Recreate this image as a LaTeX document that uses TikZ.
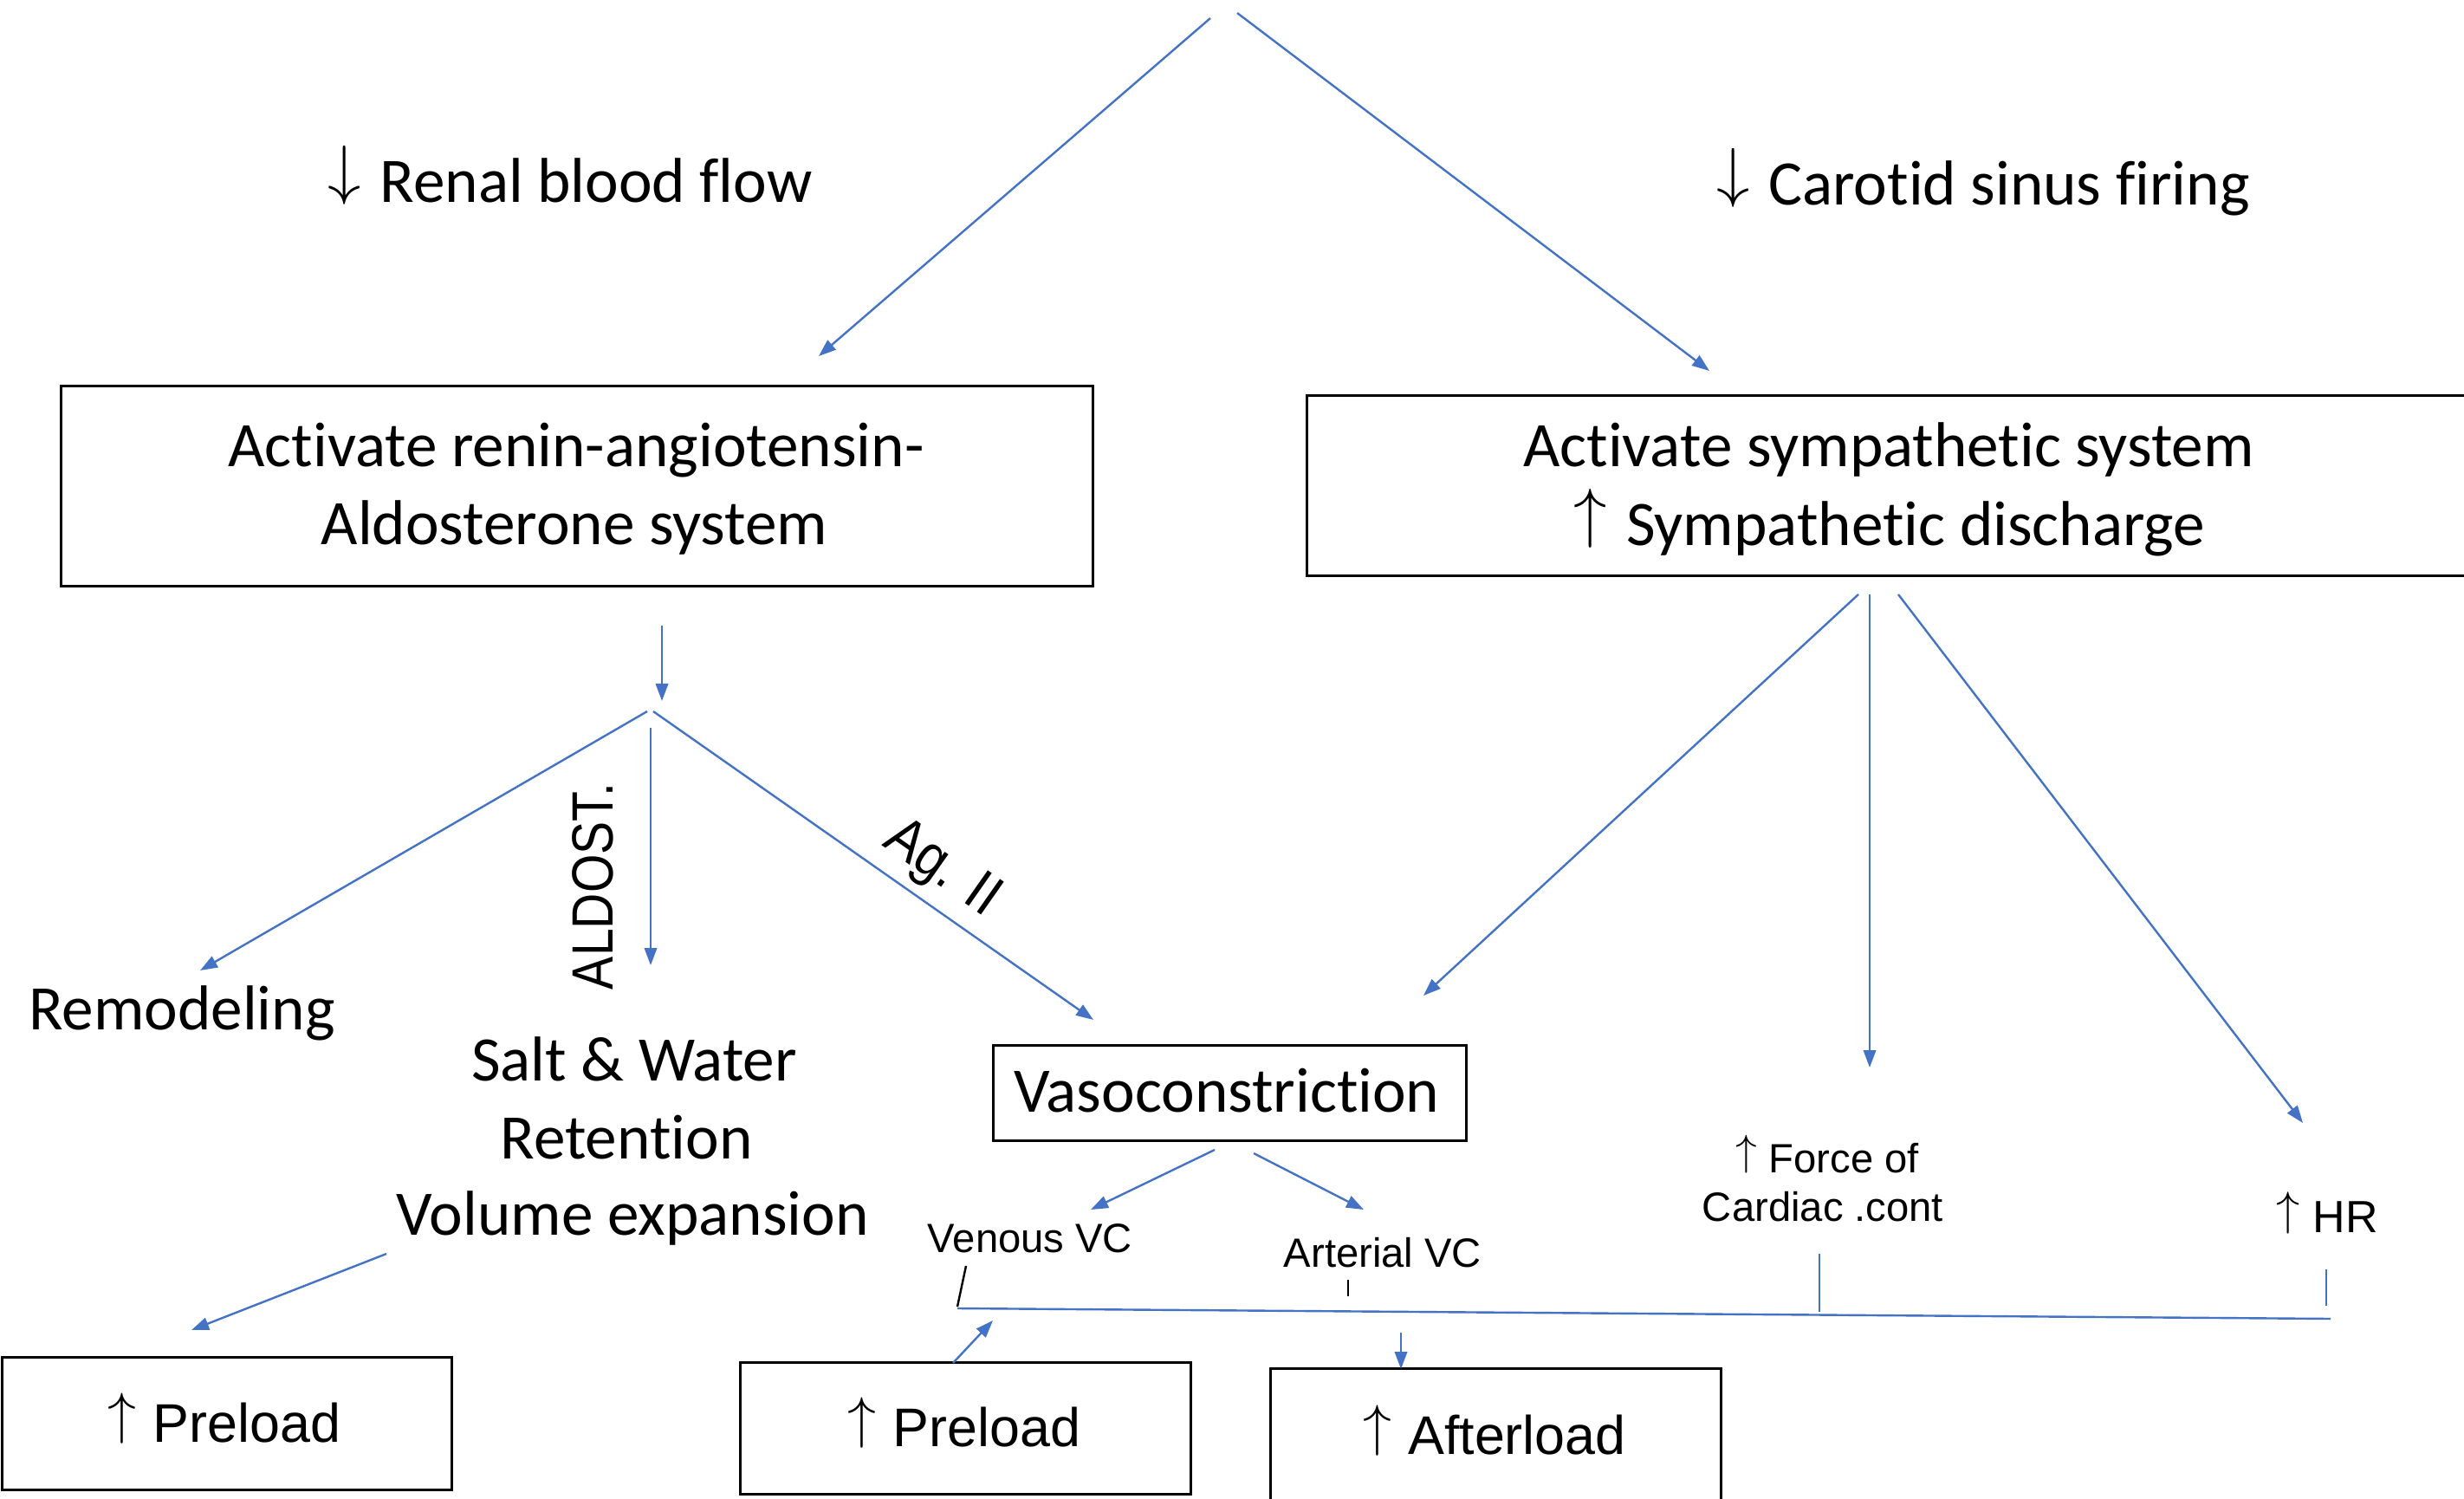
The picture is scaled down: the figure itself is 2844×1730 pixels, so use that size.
\documentclass[tikz,border=0pt]{standalone}
\usepackage{fontspec}
\setmainfont{Carlito}[Ligatures=NoCommon]
\newfontfamily\arialfam{Liberation Sans}
\usetikzlibrary{arrows.meta}
\definecolor{linkblue}{HTML}{4472C4}
% thin arrows standing on the baseline, sized to the current font
\newcommand{\myup}{\raisebox{0.17em}{\resizebox*{!}{0.93em}{$\uparrow$}}\hspace{0.3em}}
\newcommand{\mydown}{\raisebox{0.17em}{\resizebox*{!}{0.93em}{$\downarrow$}}\hspace{0.3em}}

\begin{document}
\begin{tikzpicture}[x=0.25pt,y=-0.25pt,
  box/.style={draw=black, line width=0.75pt, inner sep=0pt, outer sep=0pt},
  txt/.style={anchor=base, inner sep=0pt, font=\fontsize{18.3}{22}\selectfont},
  lbl/.style={anchor=base, inner sep=0pt, font=\arialfam\fontsize{11.8}{14}\selectfont},
  big/.style={anchor=base, inner sep=0pt, font=\arialfam\fontsize{15.7}{18}\selectfont},
  side/.style={inner sep=0pt, font=\arialfam\fontsize{16.8}{18}\selectfont},
  flow/.style={draw=linkblue, line width=0.6pt, -{Triangle[length=5pt,width=3.6pt]}},
  link/.style={draw=linkblue, line width=0.6pt},
  tick/.style={draw=black, line width=0.6pt}]

% page frame
\clip (0,0) rectangle (2844,1730);
\fill[white] (0,0) rectangle (2844,1730);

% ---------- headings ----------
\node[txt] (renal) at (658,234) {\mydown Renal blood flow};
\node[txt] (carotid) at (2289,237) {\mydown Carotid sinus firing};

% ---------- system boxes ----------
\node[box, minimum width=297.75pt, minimum height=57.75pt] (raas) at (665.5,561.5) {};
\node[txt] (raasA) at (665,539) {Activate renin-angiotensin-};
\node[txt] (raasB) at (663,629) {Aldosterone system};

\node[box, minimum width=335.5pt, minimum height=52pt] (symp) at (2179,561) {};
\node[txt] (sympA) at (2180,539) {Activate sympathetic system};
\node[txt] (sympB) at (2181,630) {\myup Sympathetic discharge};

% ---------- RAAS effects ----------
\node[txt] (remod) at (210,1188) {Remodeling};
\node[txt] (saltA) at (732,1247) {Salt \& Water};
\node[txt] (saltB) at (723,1337) {Retention};
\node[txt] (saltC) at (730,1425) {Volume expansion};
\node[side, rotate=90] (aldost) at (684,1023) {\scalebox{0.85}[1]{ALDOST.}};

% ---------- vasoconstriction ----------
\node[box, minimum width=136.5pt, minimum height=27.5pt] (vaso) at (1419,1261) {};
\node[txt] (vasoT) at (1416,1283.5) {Vasoconstriction};
\node[lbl] (venous) at (1189,1445) {Venous VC};
\node[lbl] (arterial) at (1596,1462) {Arterial VC};

% ---------- sympathetic effects ----------
\node[lbl] (forceA) at (2109,1353) {\myup Force of};
\node[lbl] (forceB) at (2104,1409) {Cardiac .cont};
\node[lbl, font=\arialfam\fontsize{13}{15}\selectfont] (hr) at (2686,1422) {\myup HR};

% ---------- load boxes ----------
\node[box, minimum width=129.75pt, minimum height=38.25pt] (preL) at (261.5,1642.5) {};
\node[big] (preLT) at (259,1664) {\myup Preload};
\node[box, minimum width=130pt, minimum height=38pt] (preM) at (1114,1648) {};
\node[big] (preMT) at (1113,1669) {\myup Preload};
\node[box, minimum width=130pt, minimum height=39pt] (after) at (1726,1657) {};
\node[big] (afterT) at (1725,1678) {\myup Afterload};

% ---------- connector end points ----------
\coordinate (topL) at (1397,21);   \coordinate (topLend) at (945,411);
\coordinate (topR) at (1428,15);   \coordinate (topRend) at (1973,428);
\coordinate (raasOut) at (764,722); \coordinate (fork) at (764,809);
\coordinate (brL) at (747,821);    \coordinate (brLend) at (231,1120);
\coordinate (brM) at (751,840);    \coordinate (brMend) at (751,1114);
\coordinate (brR) at (754,821);    \coordinate (brRend) at (1262,1177);
\coordinate (volOut) at (446,1447); \coordinate (volEnd) at (221,1535);
\coordinate (sL) at (2145,686);    \coordinate (sLend) at (1643,1149);
\coordinate (sM) at (2158,686);    \coordinate (sMend) at (2158,1232);
\coordinate (sR) at (2191,686);    \coordinate (sRend) at (2658,1296);
\coordinate (vL) at (1402,1327);   \coordinate (vLend) at (1259,1396);
\coordinate (vR) at (1447,1331);   \coordinate (vRend) at (1574,1396);
\coordinate (venT) at (1115,1461); \coordinate (venB) at (1105,1508);
\coordinate (artT) at (1556,1477); \coordinate (artB) at (1556,1496);
\coordinate (busL) at (1105,1510); \coordinate (busR) at (2690,1522);
\coordinate (fT) at (2100,1447);   \coordinate (fB) at (2100,1514);
\coordinate (hT) at (2685,1465);   \coordinate (hB) at (2685,1507);
\coordinate (upS) at (1100,1573);  \coordinate (upE) at (1146,1524);
\coordinate (dnS) at (1617,1538);  \coordinate (dnE) at (1617,1580);

% ---------- connectors ----------
\draw[flow] (topL) -- (topLend);
\draw[flow] (topR) -- (topRend);
\draw[flow] (raasOut) -- (fork);
\draw[flow] (brL) -- (brLend);
\draw[flow] (brM) -- (brMend);
\draw[flow] (brR) -- node[side, pos=0.608, sloped, above=6.2pt, anchor=base]
  (ag) {\scalebox{0.9}[1]{Ag. II}} (brRend);
\draw[flow] (volOut) -- (volEnd);
\draw[flow] (sL) -- (sLend);
\draw[flow] (sM) -- (sMend);
\draw[flow] (sR) -- (sRend);
\draw[flow] (vL) -- (vLend);
\draw[flow] (vR) -- (vRend);
\draw[tick] (venT) -- (venB);
\draw[tick] (artT) -- (artB);
\draw[link] (busL) -- (busR);
\draw[link] (fT) -- (fB);
\draw[link] (hT) -- (hB);
\draw[flow] (upS) -- (upE);
\draw[flow] (dnS) -- (dnE);

\end{tikzpicture}
\end{document}
